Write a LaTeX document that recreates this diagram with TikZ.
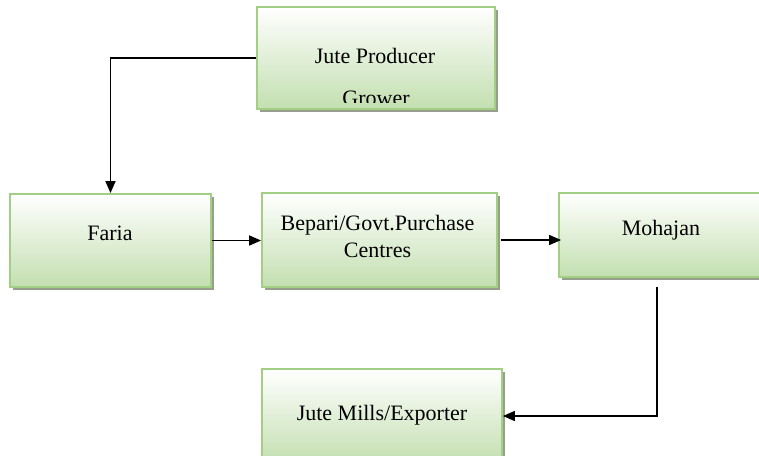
\documentclass[tikz,border=0pt]{standalone}
\usepackage{fontspec}
\setmainfont{Liberation Serif}
\usepackage{tikz}
\usetikzlibrary{arrows.meta}
\usetikzlibrary{shadows}
\usetikzlibrary{positioning}

\definecolor{boxfill}{RGB}{195,223,176}
\definecolor{boxline}{RGB}{163,207,133}
\definecolor{boxshadow}{RGB}{150,158,140}

\begin{document}
\begin{tikzpicture}
    [x=1pt, y=-1pt,
     flowbox/.style={draw=boxline, line width=1.8pt, inner sep=0pt,
       top color=white, bottom color=boxfill,
       drop shadow={shadow xshift=3pt, shadow yshift=-3pt, fill=boxshadow, opacity=1}},
     boxtext/.style={anchor=base, inner sep=0pt, font=\fontsize{22}{27}\selectfont},
     flow/.style={line width=1.6pt, -{Triangle[length=12pt, width=10pt]}}]
    \useasboundingbox (0,0) rectangle (759,455);

    \node (grower) [flowbox, minimum width=238pt, minimum height=102pt] at (376,58) {};
    \node (faria) [flowbox, minimum width=201pt, minimum height=93pt] at (110.5,240.5) {};
    \node (bepari) [flowbox, minimum width=235pt, minimum height=94pt] at (379.5,240) {};
    \node (mohajan) [flowbox, minimum width=204pt, minimum height=84pt] at (661,235) {};
    \node (mills) [flowbox, minimum width=240pt, minimum height=94pt] at (382,416) {};

    % texts (the second line of the top box is cut by the box)
    \begin{scope}
      \clip (258,8) rectangle (495,102);
      \node (growertop) [boxtext] at (375,63) {Jute Producer};
      \node (growerbot) [boxtext] at (376,105) {Grower};
    \end{scope}
    \node (fariatext) [boxtext] at (110,240) {Faria};
    \node (beparitop) [boxtext] at (377.5,230) {Bepari/Govt.Purchase};
    \node (beparibot) [boxtext] at (377.5,257) {Centres};
    \node (mohajantext) [boxtext] at (661,235) {Mohajan};
    \node (millstext) [boxtext] at (382,420) {Jute Mills/Exporter};

    \coordinate (drop) at (657,287);

    \draw [flow] (grower.west) -| (faria.north);
    \draw [flow] (faria.east) -- (faria.east -| bepari.west);
    \draw [flow] ([xshift=3pt]bepari.east) -- ([xshift=3pt]bepari.east -| mohajan.west);
    \draw [flow] (drop) |- (mills.east);
\end{tikzpicture}
\end{document}
